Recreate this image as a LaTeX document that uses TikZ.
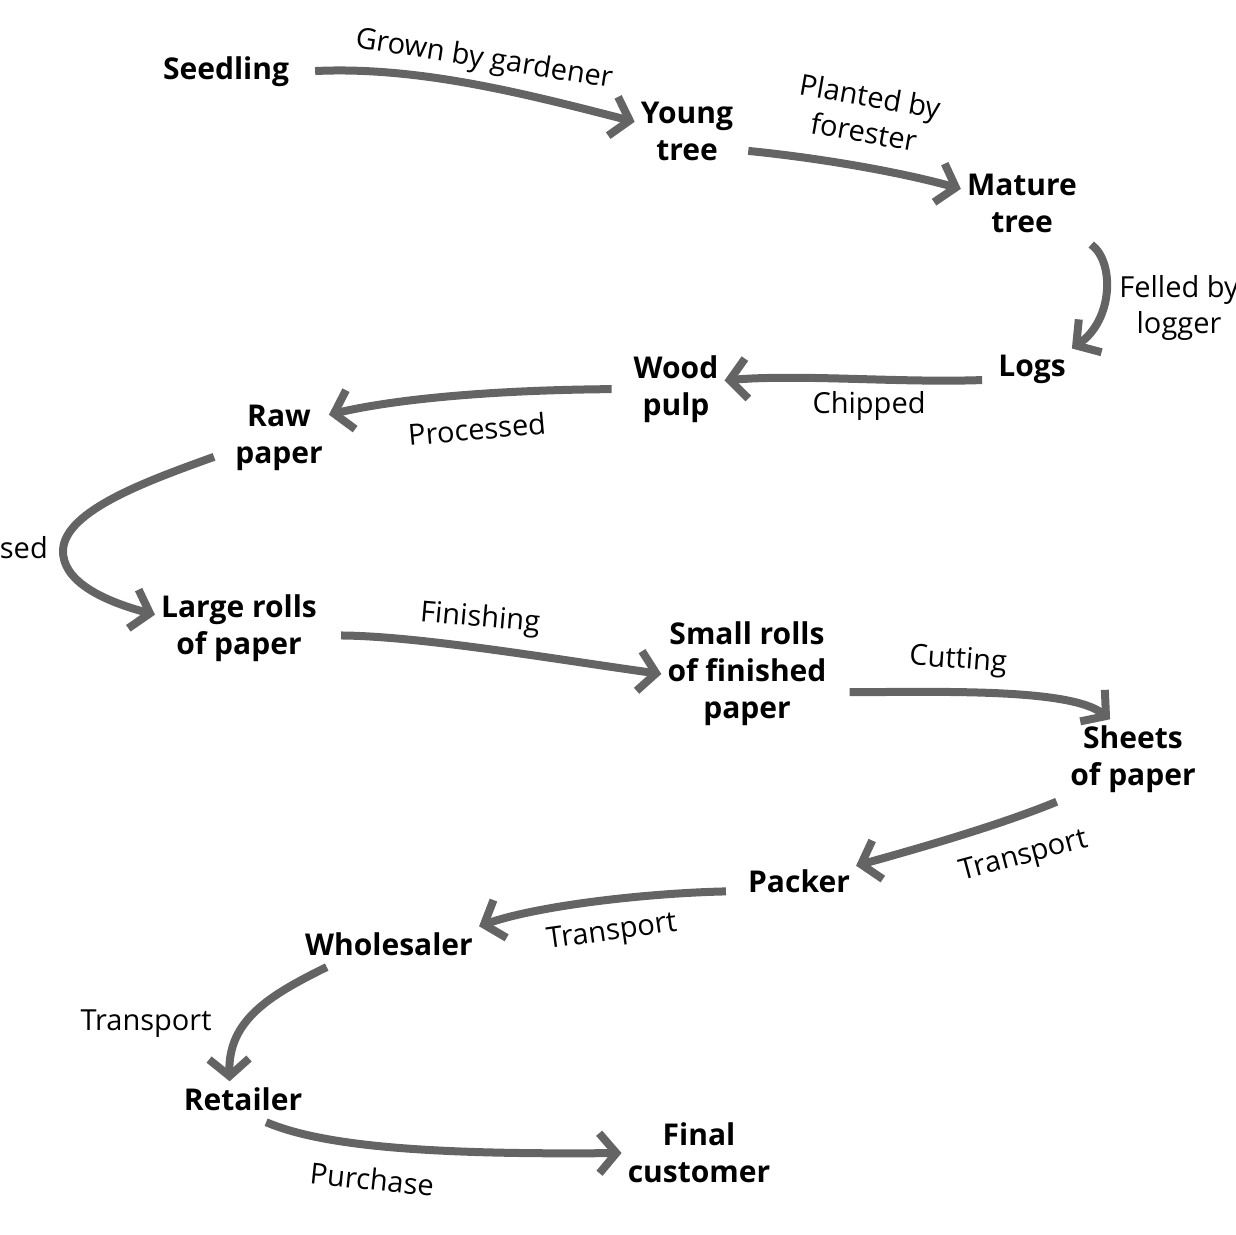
\documentclass[tikz,border=0pt]{standalone}
\usepackage{fontspec}
\setmainfont{Open Sans}
\usetikzlibrary{arrows.meta}
\definecolor{linegray}{RGB}{100,100,100}

\begin{document}
\begin{tikzpicture}[x=1pt,y=-1pt]
\tikzset{stage/.style={font=\bfseries\fontsize{30}{37}\selectfont, align=center, inner sep=6pt},
  act/.style={font=\fontsize{29}{36}\selectfont, align=center, inner sep=0pt},
  flow/.style={line width=8pt, draw=linegray, -{Straight Barb[length=17pt,width=40pt]}}}
\useasboundingbox (0,0) rectangle (1236,1234);

% stages of the chain
\node[stage] (seedling) at (226,72) {Seedling};
\node[stage] (young) at (687,131) {Young\\tree};
\node[stage] (mature) at (1022,203) {Mature\\tree};
\node[stage] (logs) at (1032,369) {Logs};
\node[stage] (pulp) at (676,389) {Wood\\pulp};
\node[stage] (raw) at (279,438) {Raw\\paper};
\node[stage] (large) at (239,628) {Large rolls\\of paper};
\node[stage] (small) at (747,674) {Small rolls\\of finished\\paper};
\node[stage] (sheets) at (1133,759) {Sheets\\of paper};
\node[stage] (packer) at (799,881) {Packer};
\node[stage] (wholesaler) at (389,944) {Wholesaler};
\node[stage] (retailer) at (243,1099) {Retailer};
\node[stage] (final) at (699,1153) {Final\\customer};

% what happens in between
\node[act, rotate=-9] (grown) at (484,60) {Grown by gardener};
\node[act, rotate=-10] (planted) at (867,114) {Planted by\\forester};
\node[act] (felled) at (1179,308) {Felled by\\logger};
\node[act] (chipped) at (869,406) {Chipped};
\node[act, rotate=5] (processed) at (477,429) {Processed};
\node[act, anchor=east] (pressed) at (48,548) {Processed};
\node[act, rotate=-5] (finishing) at (480,619) {Finishing};
\node[act, rotate=-4] (cutting) at (958,661) {Cutting};
\node[act, rotate=15] (transA) at (1024,857) {Transport};
\node[act, rotate=8] (transB) at (612,933) {Transport};
\node[act] (transC) at (146,1024) {Transport};
\node[act, rotate=-6] (purchase) at (372,1179) {Purchase};

\draw[flow, shorten <=20pt] (seedling.east) .. controls (420,66) and (530,95) .. (young.170);
\draw[flow, shorten <=9pt] (young.-20) .. controls (820,158) and (900,172) .. (mature.167);
\draw[flow, shorten <=10pt] (mature.south east) .. controls (1115,262) and (1113,320) .. (logs.north east);
\draw[flow, shorten <=10pt] (logs.195) .. controls (900,383) and (800,374) .. (pulp.10);
\draw[flow, shorten <=16pt] (pulp.west) .. controls (500,390) and (400,398) .. (raw.25);
\draw[flow, shorten <=16pt] (raw.195) .. controls (150,480) and (65,510) .. (63,550)
  .. controls (62,580) and (100,600) .. (large.171);
\draw[flow, shorten <=18pt] (large.-5) .. controls (420,636) and (560,660) .. (small.west);
\draw[flow, shorten <=17pt] (small.-12) .. controls (940,692) and (1070,688) .. (sheets.120);
\draw[flow, shorten <=8pt] (sheets.south west) .. controls (1000,825) and (920,848) .. (packer.15);
\draw[flow, shorten <=16pt] (packer.190) .. controls (650,893) and (540,905) .. (wholesaler.north east);
\draw[flow, shorten <=12pt] (wholesaler.199) .. controls (270,995) and (228,1020) .. (retailer.127);
\draw[flow, shorten <=14pt] (retailer.-60) .. controls (320,1145) and (420,1155) .. (final.west);
\end{tikzpicture}
\end{document}
